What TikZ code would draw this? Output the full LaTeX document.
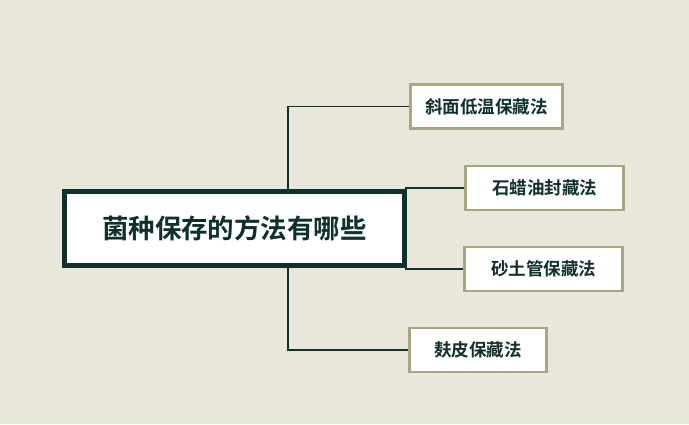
\documentclass[tikz,border=0pt]{standalone}
\usepackage{fontspec}
\newfontfamily\cjk{Noto Sans CJK SC Bold}
\definecolor{bg}{HTML}{E9E6DA}
\definecolor{dk}{HTML}{10302B}
\definecolor{ol}{HTML}{A8A682}
\begin{document}
\begin{tikzpicture}[x=1pt,y=-1pt,
  leaf/.style={draw=ol,line width=2.2pt,fill=white,minimum height=44pt,inner sep=0pt,font=\cjk\fontsize{17.5}{17.5}\selectfont,text=dk},
  link/.style={draw=dk,line width=1.3pt}]
\fill[bg] (0,0) rectangle (689,424);
\useasboundingbox (0,0) rectangle (689,424);
\node[draw=dk,line width=4.5pt,fill=white,minimum width=340pt,minimum height=74pt,inner sep=0pt,font=\cjk\fontsize{26.5}{26.5}\selectfont,text=dk] (c) at (234.5,228.5) {菌种保存的方法有哪些};
\node[leaf,minimum width=152pt] (a) at (486.5,106.5) {斜面低温保藏法};
\node[leaf,minimum width=158pt] (b) at (544.5,188) {石蜡油封藏法};
\node[leaf,minimum width=158pt] (d) at (543.5,269) {砂土管保藏法};
\node[leaf,minimum width=137pt] (e) at (478,350) {麸皮保藏法};
\coordinate (ct) at (288,190);
\coordinate (cb) at (288,267);
\draw[link] (ct) |- (a.west);
\draw[link] (cb) |- (e.west);
\draw[link] (b.west) -- (406,188) -- (406,269) -- (d.west);
\end{tikzpicture}
\end{document}
